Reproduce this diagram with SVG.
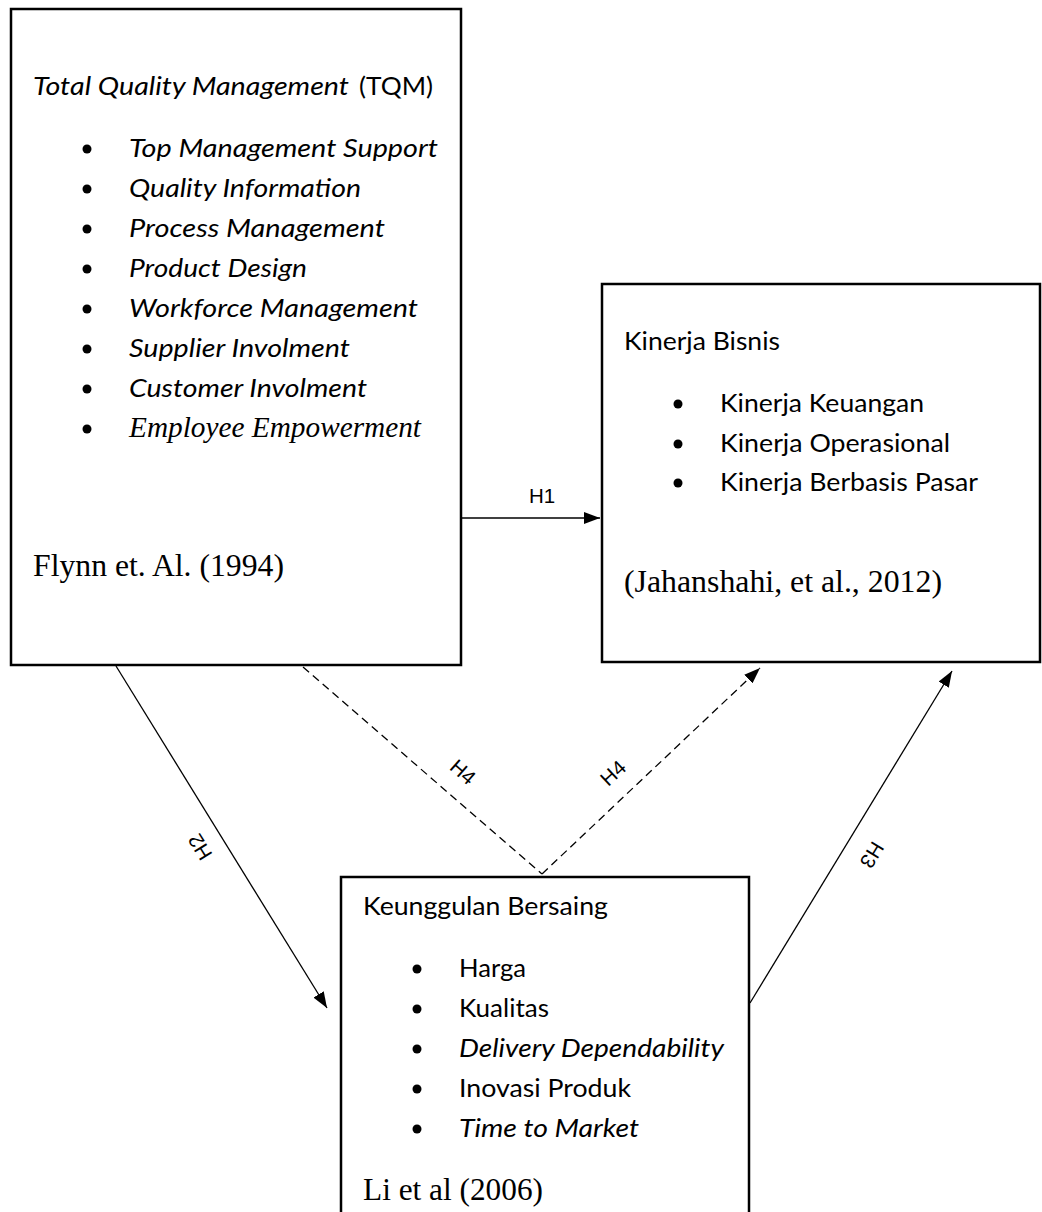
<svg xmlns="http://www.w3.org/2000/svg" width="1042" height="1212" viewBox="0 0 1042 1212">
<style>
.box{fill:#fff;stroke:#000;stroke-width:2.5}
.sans{font-family:Lato,"Open Sans","Liberation Sans",sans-serif;font-size:25.5px;fill:#000}
.it{font-style:italic}
.serif{font-family:"Liberation Serif","Times New Roman",serif;font-size:31px;fill:#000}
.seri{font-family:"Liberation Serif","Times New Roman",serif;font-size:29px;font-style:italic;fill:#000}
.lbl{font-family:"Liberation Sans",Arial,sans-serif;font-size:20.5px;fill:#000}
.con{fill:none;stroke:#000;stroke-width:1.3}
.dash{stroke-dasharray:8 5}
.bul{fill:#000}
</style>
<defs>
<marker id="ah" viewBox="0 0 16 12" refX="16" refY="6" markerWidth="16" markerHeight="12" markerUnits="userSpaceOnUse" orient="auto">
<path d="M0,0 L16,6 L0,12 z" fill="#000"/>
</marker>
</defs>
<rect width="1042" height="1212" fill="#fff"/>

<g id="tqm">
<rect class="box" x="11" y="9" width="450" height="656"/>
<text class="sans it" x="33" y="95" textLength="316" lengthAdjust="spacingAndGlyphs">Total Quality Management</text>
<text class="sans" x="359" y="95" textLength="74" lengthAdjust="spacingAndGlyphs">(TQM)</text>
<circle class="bul" cx="87" cy="149" r="4.5"/>
<circle class="bul" cx="87" cy="189" r="4.5"/>
<circle class="bul" cx="87" cy="229" r="4.5"/>
<circle class="bul" cx="87" cy="269" r="4.5"/>
<circle class="bul" cx="87" cy="309" r="4.5"/>
<circle class="bul" cx="87" cy="349" r="4.5"/>
<circle class="bul" cx="87" cy="389" r="4.5"/>
<circle class="bul" cx="87" cy="429" r="4.5"/>
<text class="sans it" x="129" y="157" textLength="309" lengthAdjust="spacingAndGlyphs">Top Management Support</text>
<text class="sans it" x="129" y="197" textLength="232" lengthAdjust="spacingAndGlyphs">Quality Information</text>
<text class="sans it" x="129" y="237" textLength="256" lengthAdjust="spacingAndGlyphs">Process Management</text>
<text class="sans it" x="129" y="277" textLength="178" lengthAdjust="spacingAndGlyphs">Product Design</text>
<text class="sans it" x="129" y="317" textLength="289" lengthAdjust="spacingAndGlyphs">Workforce Management</text>
<text class="sans it" x="129" y="357" textLength="221" lengthAdjust="spacingAndGlyphs">Supplier Involment</text>
<text class="sans it" x="129" y="397" textLength="238" lengthAdjust="spacingAndGlyphs">Customer Involment</text>
<text class="seri" x="129" y="437" textLength="292" lengthAdjust="spacingAndGlyphs">Employee Empowerment</text>
<text class="serif" x="33" y="576" textLength="251" lengthAdjust="spacingAndGlyphs">Flynn et. Al. (1994)</text>
</g>

<g id="kinerja">
<rect class="box" x="602" y="284" width="438" height="378"/>
<text class="sans" x="624" y="350" textLength="156" lengthAdjust="spacingAndGlyphs">Kinerja Bisnis</text>
<circle class="bul" cx="678" cy="404" r="4.5"/>
<circle class="bul" cx="678" cy="444" r="4.5"/>
<circle class="bul" cx="678" cy="483" r="4.5"/>
<text class="sans" x="720" y="412" textLength="204" lengthAdjust="spacingAndGlyphs">Kinerja Keuangan</text>
<text class="sans" x="720" y="452" textLength="230" lengthAdjust="spacingAndGlyphs">Kinerja Operasional</text>
<text class="sans" x="720" y="491" textLength="258" lengthAdjust="spacingAndGlyphs">Kinerja Berbasis Pasar</text>
<text class="serif" x="624" y="592" textLength="318" lengthAdjust="spacingAndGlyphs">(Jahanshahi, et al., 2012)</text>
</g>

<g id="keunggulan">
<rect class="box" x="341" y="877" width="408" height="400"/>
<text class="sans" x="363" y="915" textLength="245" lengthAdjust="spacingAndGlyphs">Keunggulan Bersaing</text>
<circle class="bul" cx="417" cy="969" r="4.5"/>
<circle class="bul" cx="417" cy="1009" r="4.5"/>
<circle class="bul" cx="417" cy="1049" r="4.5"/>
<circle class="bul" cx="417" cy="1089" r="4.5"/>
<circle class="bul" cx="417" cy="1129" r="4.5"/>
<text class="sans" x="459" y="977" textLength="67" lengthAdjust="spacingAndGlyphs">Harga</text>
<text class="sans" x="459" y="1017" textLength="90" lengthAdjust="spacingAndGlyphs">Kualitas</text>
<text class="sans it" x="459" y="1057" textLength="265" lengthAdjust="spacingAndGlyphs">Delivery Dependability</text>
<text class="sans" x="459" y="1097" textLength="172" lengthAdjust="spacingAndGlyphs">Inovasi Produk</text>
<text class="sans it" x="459" y="1137" textLength="180" lengthAdjust="spacingAndGlyphs">Time to Market</text>
<text class="serif" x="363" y="1200" textLength="180" lengthAdjust="spacingAndGlyphs">Li et al (2006)</text>
</g>

<g id="connectors">
<line class="con" x1="462" y1="518" x2="600" y2="518" marker-end="url(#ah)"/>
<line class="con" x1="116" y1="666" x2="327" y2="1008" marker-end="url(#ah)"/>
<line class="con dash" x1="303" y1="667" x2="542" y2="874"/>
<line class="con dash" x1="542" y1="874" x2="760" y2="668" marker-end="url(#ah)"/>
<line class="con" x1="750" y1="1003" x2="952" y2="671" marker-end="url(#ah)"/>
<text class="lbl" x="529" y="503">H1</text>
<text class="lbl" text-anchor="middle" dy="0.35em" transform="translate(200,847) rotate(-121.7)">H2</text>
<text class="lbl" text-anchor="middle" dy="0.35em" transform="translate(463,772) rotate(41)">H4</text>
<text class="lbl" text-anchor="middle" dy="0.35em" transform="translate(613,773) rotate(-43)">H4</text>
<text class="lbl" text-anchor="middle" dy="0.35em" transform="translate(872,855) rotate(121.3)">H3</text>
</g>
</svg>
